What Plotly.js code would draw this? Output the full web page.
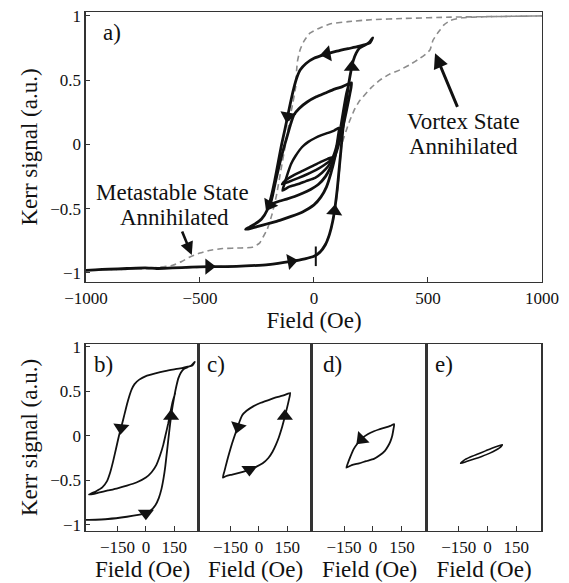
<!DOCTYPE html>
<html>
<head>
<meta charset="utf-8">
<script src="https://cdn.plot.ly/plotly-3.0.1.min.js"></script>
<style>html,body{margin:0;padding:0;background:#fff;}#chart{width:569px;height:583px;}</style>
</head>
<body>
<div id="chart"></div>
<script>
// ---- Data ----
// Loop b: from negative saturation, big loop, and inner return branch
var loopBX = [-1000,-960,-900,-820,-740,-690,-620,-540,-460,-380,-300,-200,-100,-40,0,25,50,68,82,93,102,110,118,127,137,148,160,172,185,200,220,240,258,
  245,220,190,150,100,50,0,-35,-60,-75,-88,-100,-113,-127,-142,-157,-172,-188,-205,-230,-260,-285,-300,
  -280,-250,-200,-150,-100,-50,0,30,55,75,92,105,118,130,142,155];
var loopBY = [-0.98,-0.975,-0.97,-0.965,-0.96,-0.965,-0.96,-0.955,-0.95,-0.95,-0.945,-0.935,-0.91,-0.89,-0.87,-0.84,-0.78,-0.70,-0.60,-0.48,-0.35,-0.20,-0.05,0.12,0.28,0.42,0.55,0.65,0.71,0.75,0.77,0.79,0.83,
  0.79,0.775,0.76,0.745,0.725,0.70,0.67,0.63,0.58,0.52,0.44,0.35,0.24,0.12,0.0,-0.14,-0.28,-0.41,-0.51,-0.58,-0.62,-0.645,-0.66,
  -0.655,-0.64,-0.615,-0.59,-0.56,-0.525,-0.47,-0.41,-0.33,-0.22,-0.10,0.02,0.14,0.27,0.39,0.48];
// Loop c
var loopCX = [165,150,125,90,50,10,-30,-65,-88,-102,-115,-128,-142,-156,-170,-182,-190,
  -175,-150,-120,-85,-50,-15,20,50,72,90,105,120,135,148,158,165];
var loopCY = [0.48,0.47,0.45,0.43,0.40,0.37,0.33,0.28,0.23,0.16,0.08,0.0,-0.09,-0.19,-0.30,-0.40,-0.47,
  -0.455,-0.44,-0.425,-0.405,-0.38,-0.35,-0.31,-0.25,-0.18,-0.10,-0.02,0.08,0.20,0.31,0.40,0.48];
// Loop d
var loopDX = [110,90,62,30,5,-25,-52,-81,-100,-118,-132,-138,-110,-72,-35,5,35,62,80,91,100,106,110];
var loopDY = [0.13,0.11,0.09,0.07,0.05,0.02,-0.02,-0.09,-0.15,-0.24,-0.32,-0.36,-0.33,-0.31,-0.285,-0.26,-0.22,-0.17,-0.11,-0.06,0.0,0.07,0.13];
// Loop e
var loopEX = [-140,-110,-70,-30,10,45,70,78,60,30,-10,-50,-90,-125,-140];
var loopEY = [-0.31,-0.29,-0.262,-0.232,-0.198,-0.16,-0.125,-0.10,-0.112,-0.135,-0.17,-0.205,-0.24,-0.28,-0.31];
// Major loop (grey dashed)
var majorDescX = [1000,800,600,400,250,150,78,30,-18,-45,-61,-72,-76,-80,-92,-108,-125,-145,-165,-185,-205,-223,-240,-270,-320,-400,-460,-500,-544,-580,-620,-680,-800,-1000];
var majorDescY = [1.0,0.995,0.99,0.98,0.97,0.955,0.94,0.91,0.865,0.80,0.735,0.65,0.58,0.45,0.33,0.18,0.0,-0.2,-0.4,-0.55,-0.66,-0.72,-0.77,-0.80,-0.805,-0.81,-0.825,-0.845,-0.875,-0.91,-0.94,-0.955,-0.97,-0.98];
var majorAscX = [-1000,-800,-600,-400,-200,-100,0,40,68,88,102,112,122,140,158,180,200,215,250,289,330,377,420,465,495,509,522,540,553,570,600,650,750,1000];
var majorAscY = [-0.98,-0.97,-0.96,-0.95,-0.935,-0.91,-0.87,-0.80,-0.70,-0.56,-0.38,-0.2,0.0,0.10,0.19,0.28,0.34,0.37,0.44,0.50,0.545,0.58,0.62,0.67,0.71,0.735,0.81,0.86,0.89,0.93,0.965,0.985,0.993,1.0];
// Direction arrows (triangles) on the curves
var arrowsAX = [-461,-100,90,166,57,-115,-195];
var arrowsAY = [-0.95,-0.91,-0.52,0.60,0.705,0.22,-0.47];
var arrowsAAngle = [90,80,5,0,260,190,210];
var arrowsBX = [0,133,-131];
var arrowsBY = [-0.87,0.22,0.09];
var arrowsBAngle = [180,0,185];
var arrowsCX = [-110,-50,137];
var arrowsCY = [0.10,-0.38,0.22];
var arrowsCAngle = [195,180,0];
var arrowsDX = [-60];
var arrowsDY = [-0.04];
var arrowsDAngle = [225];
var markX = [8];
var markY = [-0.87];
// Tick labels
var topXTicks = [-1000,-500,0,500,1000];
var yTicks = [-1,-0.5,0,0.5,1];
var botXTicks = [-150,0,150];

var FONT = '"Liberation Serif", "DejaVu Serif", serif';
var INK = '#111';

function loop(x, y, xa, ya, w) {
  return {x: x, y: y, xaxis: xa, yaxis: ya, type: 'scatter', mode: 'lines',
    line: {color: INK, width: w, shape: 'spline', smoothing: 0.5}, hoverinfo: 'skip', showlegend: false};
}
function arrows(x, y, ang, xa, ya, s) {
  return {x: x, y: y, xaxis: xa, yaxis: ya, type: 'scatter', mode: 'markers',
    marker: {symbol: 'triangle-up', size: s, color: INK, angle: ang, line: {width: 0}},
    hoverinfo: 'skip', showlegend: false, cliponaxis: false};
}

var traces = [
  {x: majorDescX, y: majorDescY, type: 'scatter', mode: 'lines', xaxis: 'x', yaxis: 'y',
   line: {color: '#8c8c8c', width: 1.6, dash: '6px,4px', shape: 'spline', smoothing: 0.5}, hoverinfo: 'skip', showlegend: false},
  {x: majorAscX, y: majorAscY, type: 'scatter', mode: 'lines', xaxis: 'x', yaxis: 'y',
   line: {color: '#8c8c8c', width: 1.6, dash: '6px,4px', shape: 'spline', smoothing: 0.5}, hoverinfo: 'skip', showlegend: false},
  loop(loopBX, loopBY, 'x', 'y', 2.8),
  loop(loopCX, loopCY, 'x', 'y', 2.8),
  loop(loopDX, loopDY, 'x', 'y', 2.5),
  loop(loopEX, loopEY, 'x', 'y', 2.5),
  arrows(arrowsAX, arrowsAY, arrowsAAngle, 'x', 'y', 14),
  {x: markX, y: markY, xaxis: 'x', yaxis: 'y', type: 'scatter', mode: 'markers',
   marker: {symbol: 'line-ns', size: 14, line: {color: INK, width: 2}}, hoverinfo: 'skip', showlegend: false},
  loop(loopBX, loopBY, 'x2', 'y2', 1.8),
  arrows(arrowsBX, arrowsBY, arrowsBAngle, 'x2', 'y2', 14),
  loop(loopCX, loopCY, 'x3', 'y3', 1.8),
  arrows(arrowsCX, arrowsCY, arrowsCAngle, 'x3', 'y3', 14),
  loop(loopDX, loopDY, 'x4', 'y4', 1.8),
  arrows(arrowsDX, arrowsDY, arrowsDAngle, 'x4', 'y4', 14),
  loop(loopEX, loopEY, 'x5', 'y5', 1.6)
];

var tickFont = {family: FONT, size: 17, color: INK};
var titleFont = {family: FONT, size: 23, color: INK};

function xAx(dom, anchor, range, ticks, std) {
  return {domain: dom, anchor: anchor, range: range, tickvals: ticks, showgrid: false, zeroline: false,
    showline: true, mirror: true, linecolor: '#333', linewidth: 1.5, ticks: 'inside', ticklen: 5, tickcolor: '#333',
    tickfont: tickFont, title: {text: 'Field (Oe)', font: titleFont, standoff: std}, automargin: false, fixedrange: true};
}
function yAx(dom, anchor, labels) {
  return {domain: dom, anchor: anchor, range: [-1.07, 1.03], tickvals: yTicks, showgrid: false, zeroline: false,
    showline: true, mirror: true, linecolor: '#333', linewidth: 1.5, ticks: labels ? 'inside' : '', ticklen: 4, tickcolor: '#333',
    showticklabels: labels, tickfont: tickFont,
    title: labels ? {text: 'Kerr signal (a.u.)', font: titleFont, standoff: 6} : {text: ''}, automargin: false, fixedrange: true};
}

var topY = [0.5163, 0.9794];
var botY = [0.0892, 0.4099];
var botRange = [-316, 280];
var layout = {
  width: 569, height: 583,
  margin: {l: 0, r: 0, t: 0, b: 0},
  paper_bgcolor: '#fff', plot_bgcolor: '#fff',
  showlegend: false,
  font: {family: FONT, color: INK},
  xaxis: xAx([0.1511, 0.9525], 'y', [-1000, 1000], topXTicks, 0),
  yaxis: yAx(topY, 'x', true),
  xaxis2: xAx([0.1511, 0.3497], 'y2', botRange, botXTicks, 0),
  yaxis2: yAx(botY, 'x2', true),
  xaxis3: xAx([0.3497, 0.5483], 'y3', botRange, botXTicks, 0),
  yaxis3: yAx(botY, 'x3', false),
  xaxis4: xAx([0.5483, 0.7504], 'y4', botRange, botXTicks, 0),
  yaxis4: yAx(botY, 'x4', false),
  xaxis5: xAx([0.7504, 0.9508], 'y5', botRange, botXTicks, 0),
  yaxis5: yAx(botY, 'x5', false),
  annotations: [
    {text: 'a)', xref: 'paper', yref: 'paper', x: 112/569, y: 1 - 33/583, showarrow: false, font: titleFont, xanchor: 'center', yanchor: 'middle'},
    {text: 'b)', xref: 'paper', yref: 'paper', x: 103/569, y: 1 - 364/583, showarrow: false, font: titleFont, xanchor: 'center', yanchor: 'middle'},
    {text: 'c)', xref: 'paper', yref: 'paper', x: 216/569, y: 1 - 364/583, showarrow: false, font: titleFont, xanchor: 'center', yanchor: 'middle'},
    {text: 'd)', xref: 'paper', yref: 'paper', x: 332/569, y: 1 - 364/583, showarrow: false, font: titleFont, xanchor: 'center', yanchor: 'middle'},
    {text: 'e)', xref: 'paper', yref: 'paper', x: 444/569, y: 1 - 364/583, showarrow: false, font: titleFont, xanchor: 'center', yanchor: 'middle'},
    {text: 'Metastable State', xref: 'x', yref: 'y', x: -620, y: -0.377, showarrow: false, font: titleFont, xanchor: 'center', yanchor: 'middle'},
    {text: 'Annihilated', xref: 'x', yref: 'y', x: -612, y: -0.572, showarrow: false, font: titleFont, xanchor: 'center', yanchor: 'middle'},
    {text: 'Vortex State', xref: 'x', yref: 'y', x: 654, y: 0.175, showarrow: false, font: titleFont, xanchor: 'center', yanchor: 'middle'},
    {text: 'Annihilated', xref: 'x', yref: 'y', x: 654, y: -0.02, showarrow: false, font: titleFont, xanchor: 'center', yanchor: 'middle'},
    {text: '', xref: 'x', yref: 'y', x: -536, y: -0.86, axref: 'x', ayref: 'y', ax: -581, ay: -0.665,
     showarrow: true, arrowhead: 2, arrowsize: 1, arrowwidth: 2.6, arrowcolor: INK, standoff: 0},
    {text: '', xref: 'x', yref: 'y', x: 531, y: 0.71, axref: 'x', ayref: 'y', ax: 632, ay: 0.28,
     showarrow: true, arrowhead: 2, arrowsize: 1, arrowwidth: 3, arrowcolor: INK, standoff: 0}
  ]
};

Plotly.newPlot('chart', traces, layout, {staticPlot: true, displayModeBar: false});
</script>
</body>
</html>
